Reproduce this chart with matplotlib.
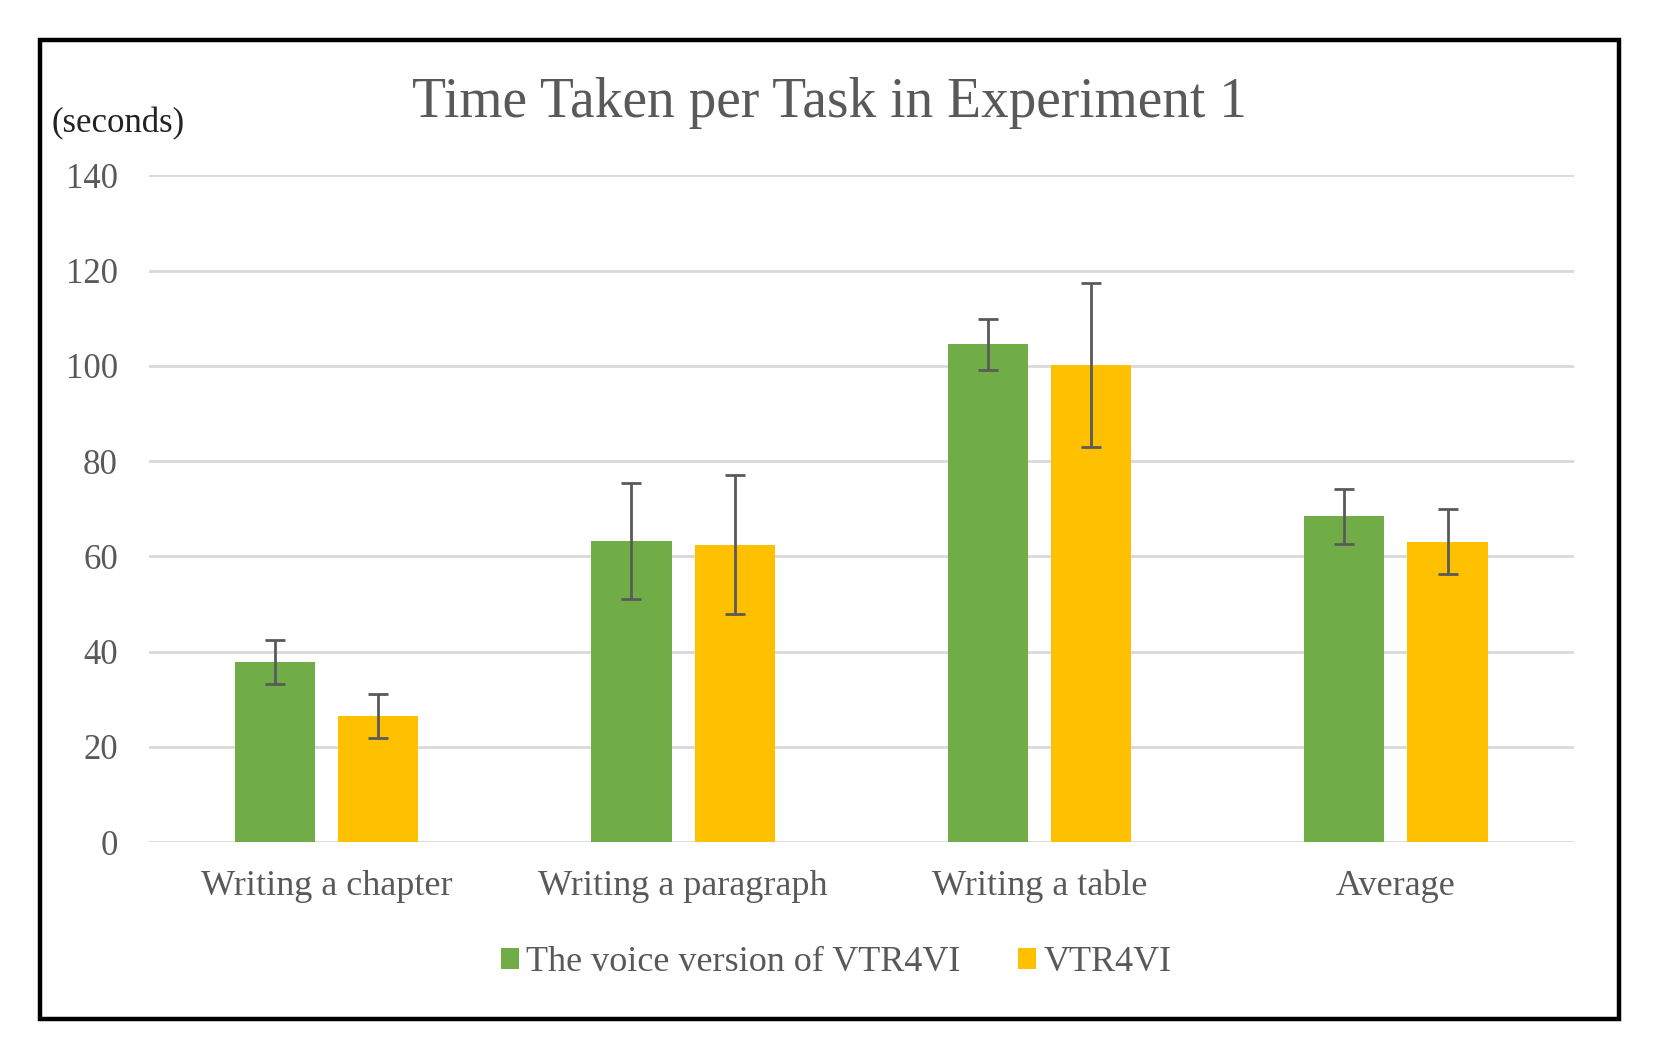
import numpy as np
import matplotlib
matplotlib.use('Agg')
import matplotlib.pyplot as plt
from matplotlib.patches import Rectangle

plt.rcParams['font.family'] = ['Liberation Serif', 'DejaVu Serif']

# data (seconds)
categories = ['Writing a chapter', 'Writing a paragraph', 'Writing a table', 'Average']
voice_mean = [37.8, 63.2, 104.5, 68.4]
voice_err = [4.6, 12.2, 5.3, 5.7]
vtr_mean = [26.5, 62.4, 100.1, 63.1]
vtr_err = [4.6, 14.6, 17.2, 6.9]
series_names = ['The voice version of VTR4VI', 'VTR4VI']

green = '#70AD47'
yellow = '#FFC000'
grey_txt = '#595959'

fig = plt.figure(figsize=(16.56, 10.64), dpi=100)
ax = fig.add_axes([0.0897, 0.2085, 0.8608, 0.6267])

x = np.arange(len(categories))
w = 0.225
off = 0.145
ekw = dict(ecolor='#5a5a5a', elinewidth=2.0, capsize=7, capthick=2.0)
ax.bar(x - off, voice_mean, w, color=green, yerr=voice_err, error_kw=ekw,
       label=series_names[0], zorder=3)
ax.bar(x + off, vtr_mean, w, color=yellow, yerr=vtr_err, error_kw=ekw,
       label=series_names[1], zorder=3)

ax.set_xlim(-0.5, len(categories) - 0.5)
ax.set_ylim(0, 140)
ax.set_yticks(np.arange(0, 141, 20))
ax.yaxis.grid(True, color='#D9D9D9', linewidth=2)
ax.set_axisbelow(True)
for s in ax.spines.values():
    s.set_visible(False)
ax.set_xticks(x)
ax.set_xticklabels(categories)
ax.tick_params(axis='y', length=0, pad=22, labelsize=25, labelcolor=grey_txt)
ax.tick_params(axis='x', length=0, pad=20, labelsize=26, labelcolor=grey_txt)

fig.text(0.501, 0.903, 'Time Taken per Task in Experiment 1', ha='center',
         va='center', fontsize=40, color=grey_txt)
fig.text(0.031, 0.884, '(seconds)', ha='left', va='center', fontsize=25,
         color='#222222')

fig.legend(loc='center', bbox_to_anchor=(0.505, 0.095), ncol=2, frameon=False,
           fontsize=26, labelcolor=grey_txt, handlelength=0.5, handleheight=0.5,
           handletextpad=0.2, columnspacing=1.6)

# black frame around the whole chart
fig.patches.append(Rectangle((0.0244, 0.0427), 0.9532, 0.9194,
                             transform=fig.transFigure, fill=False,
                             edgecolor='black', linewidth=3.2))

plt.savefig('out.png', dpi=100)
